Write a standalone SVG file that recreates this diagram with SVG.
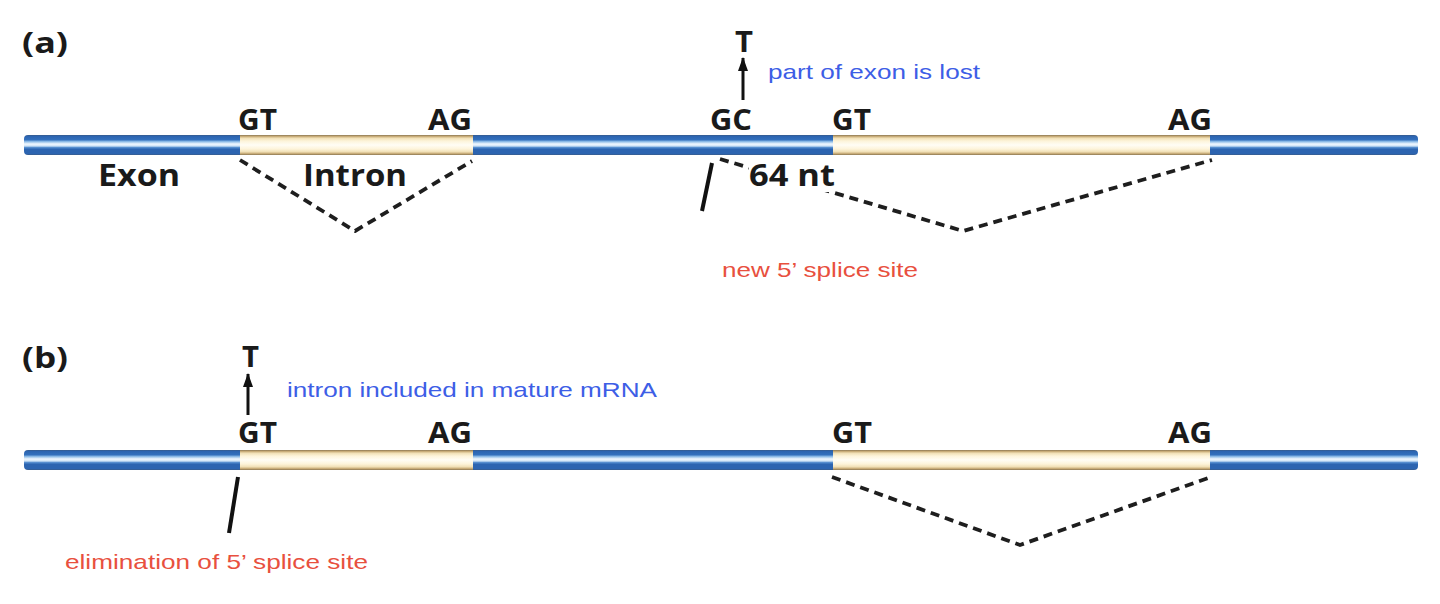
<svg xmlns="http://www.w3.org/2000/svg" width="1440" height="604" viewBox="0 0 1440 604">
  <defs>
    <linearGradient id="exonGrad" x1="0" y1="0" x2="0" y2="1">
      <stop offset="0" stop-color="#3a5a85"/>
      <stop offset="0.06" stop-color="#2c64b0"/>
      <stop offset="0.24" stop-color="#3370bd"/>
      <stop offset="0.33" stop-color="#8fbde8"/>
      <stop offset="0.45" stop-color="#f2f8fe"/>
      <stop offset="0.55" stop-color="#cfe4f7"/>
      <stop offset="0.63" stop-color="#4e88cc"/>
      <stop offset="0.72" stop-color="#2c64b0"/>
      <stop offset="0.94" stop-color="#2c64b0"/>
      <stop offset="1" stop-color="#3a5a85"/>
    </linearGradient>
    <linearGradient id="intronGrad" x1="0" y1="0" x2="0" y2="1">
      <stop offset="0" stop-color="#8a7652"/>
      <stop offset="0.07" stop-color="#c6aa76"/>
      <stop offset="0.16" stop-color="#f1e0b6"/>
      <stop offset="0.3" stop-color="#fdf4da"/>
      <stop offset="0.5" stop-color="#fffdf5"/>
      <stop offset="0.7" stop-color="#fdf4da"/>
      <stop offset="0.84" stop-color="#f1e0b6"/>
      <stop offset="0.93" stop-color="#c6aa76"/>
      <stop offset="1" stop-color="#8a7652"/>
    </linearGradient>
    <marker id="arrowHead" viewBox="0 0 14 10" refX="13" refY="5" markerWidth="14" markerHeight="10" markerUnits="userSpaceOnUse" orient="auto">
      <path d="M0 0 L14 5 L0 10 Z" fill="#111"/>
    </marker>
  </defs>
  <style>
    .lbl { font-family: "Open Sans", "Liberation Sans", sans-serif; font-weight: 700; font-size: 28px; fill: #1a1a1a; }
    .big { font-family: "Open Sans", "Liberation Sans", sans-serif; font-weight: 700; font-size: 30px; fill: #1a1a1a; }
    .blue { font-family: "Liberation Sans", Arial, sans-serif; font-size: 21px; fill: #3d5ee6; }
    .red { font-family: "Liberation Sans", Arial, sans-serif; font-size: 21px; fill: #e8503e; }
    .exon { fill: url(#exonGrad); }
    .intron { fill: url(#intronGrad); }
    .dash { fill: none; stroke: #1e1e1e; stroke-width: 3.8; stroke-dasharray: 9 6; stroke-linejoin: round; }
    .slash { stroke: #111; stroke-width: 4; stroke-linecap: butt; }
    .arrow { stroke: #111; stroke-width: 3; fill: none; }
  </style>
  <rect width="1440" height="604" fill="#ffffff"/>

  <!-- Panel (a) -->
  <g id="panel-a-label"><text class="lbl" x="22" y="53" textLength="46" lengthAdjust="spacingAndGlyphs">(a)</text></g>

  <g id="strand-a">
    <rect class="exon" x="24" y="135" width="1394" height="20" rx="4"/>
    <rect class="intron" x="240" y="135" width="233" height="20"/>
    <rect class="intron" x="833" y="135" width="377" height="20"/>
  </g>

  <g id="connectors">
    <polyline class="dash" points="240,160 355,231 472,161"/>
    <polyline class="dash" points="720,159 963,231 1212,160"/>
    <polyline class="dash" points="832,477 1020,545 1211,477"/>
    <line class="arrow" x1="743" y1="100" x2="743" y2="58" marker-end="url(#arrowHead)"/>
    <line class="arrow" x1="248" y1="415" x2="248" y2="374" marker-end="url(#arrowHead)"/>
    <line class="slash" x1="712" y1="163" x2="702" y2="211"/>
    <line class="slash" x1="238" y1="477" x2="229" y2="533"/>
  </g>

  <g id="labels-a">
    <text class="lbl" x="238" y="130" textLength="39" lengthAdjust="spacingAndGlyphs">GT</text>
    <text class="lbl" x="428" y="130" textLength="44" lengthAdjust="spacingAndGlyphs">AG</text>
    <text class="lbl" x="710" y="130" textLength="42" lengthAdjust="spacingAndGlyphs">GC</text>
    <text class="lbl" x="832" y="130" textLength="39" lengthAdjust="spacingAndGlyphs">GT</text>
    <text class="lbl" x="1168" y="130" textLength="44" lengthAdjust="spacingAndGlyphs">AG</text>
    <text class="lbl" x="735" y="52" textLength="18" lengthAdjust="spacingAndGlyphs">T</text>
    <text class="big" x="98" y="186" textLength="82" lengthAdjust="spacingAndGlyphs">Exon</text>
    <text class="big" x="303" y="186" textLength="104" lengthAdjust="spacingAndGlyphs">Intron</text>
    <rect x="749" y="161" width="84" height="31" fill="#ffffff"/>
    <text class="big" x="749" y="186" textLength="86" lengthAdjust="spacingAndGlyphs">64 nt</text>
    <text class="blue" x="768" y="79" textLength="212" lengthAdjust="spacingAndGlyphs">part of exon is lost</text>
    <text class="red" x="722" y="277" textLength="196" lengthAdjust="spacingAndGlyphs">new 5’ splice site</text>
  </g>

  <!-- Panel (b) -->
  <g id="panel-b-label"><text class="lbl" x="22" y="368" textLength="46" lengthAdjust="spacingAndGlyphs">(b)</text></g>

  <g id="strand-b">
    <rect class="exon" x="24" y="450" width="1394" height="20" rx="4"/>
    <rect class="intron" x="240" y="450" width="233" height="20"/>
    <rect class="intron" x="833" y="450" width="377" height="20"/>
  </g>

  <g id="labels-b">
    <text class="lbl" x="242" y="367" textLength="17" lengthAdjust="spacingAndGlyphs">T</text>
    <text class="lbl" x="238" y="443" textLength="39" lengthAdjust="spacingAndGlyphs">GT</text>
    <text class="lbl" x="428" y="443" textLength="44" lengthAdjust="spacingAndGlyphs">AG</text>
    <text class="lbl" x="832" y="443" textLength="40" lengthAdjust="spacingAndGlyphs">GT</text>
    <text class="lbl" x="1168" y="443" textLength="44" lengthAdjust="spacingAndGlyphs">AG</text>
    <text class="blue" x="287" y="397" textLength="370" lengthAdjust="spacingAndGlyphs">intron included in mature mRNA</text>
    <text class="red" x="65" y="569" textLength="303" lengthAdjust="spacingAndGlyphs">elimination of 5’ splice site</text>
  </g>
</svg>
